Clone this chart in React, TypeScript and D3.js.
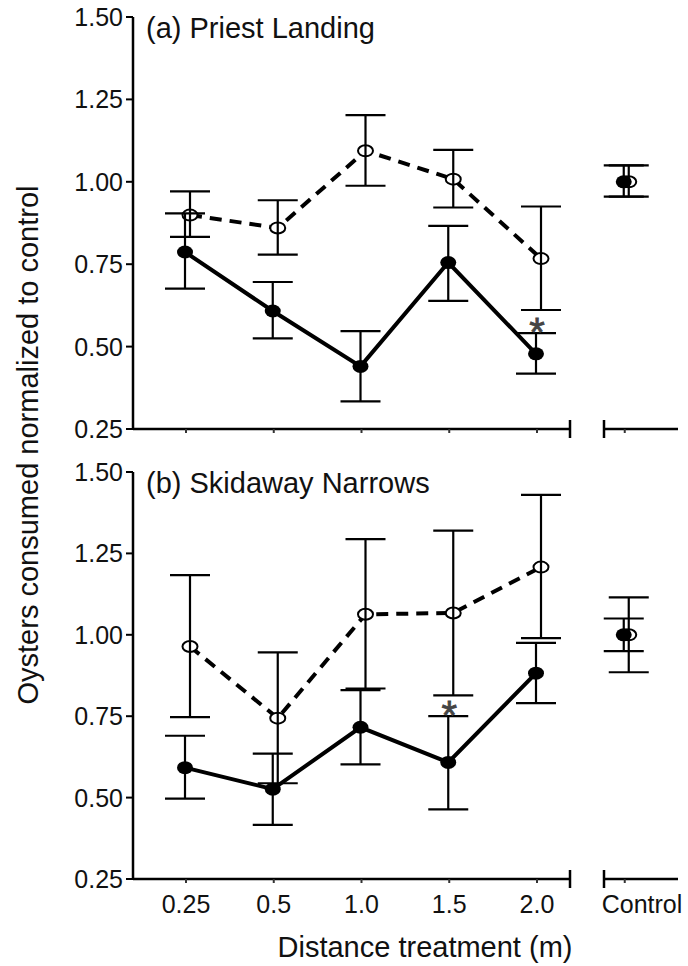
import * as d3 from 'd3';

const categories = ['0.25', '0.5', '1.0', '1.5', '2.0', 'Control'];
const treatmentLabels = ['0.25', '0.5', '1.0', '1.5', '2.0'];
const yTicks = [0.25, 0.5, 0.75, 1.0, 1.25, 1.5];

// (a) Priest Landing
const priestFilled = [0.787, 0.608, 0.44, 0.755, 0.478, 1.0];
const priestFilledHi = [0.904, 0.696, 0.547, 0.866, 0.541, 1.05];
const priestFilledLo = [0.676, 0.525, 0.334, 0.639, 0.418, 0.955];
const priestOpen = [0.899, 0.86, 1.094, 1.008, 0.767, 1.0];
const priestOpenHi = [0.971, 0.944, 1.202, 1.097, 0.925, 1.05];
const priestOpenLo = [0.833, 0.779, 0.988, 0.922, 0.611, 0.955];
const priestStar = ['2.0'];

// (b) Skidaway Narrows
const skidFilled = [0.592, 0.526, 0.716, 0.608, 0.882, 1.0];
const skidFilledHi = [0.69, 0.635, 0.83, 0.75, 0.975, 1.05];
const skidFilledLo = [0.497, 0.416, 0.602, 0.464, 0.79, 0.95];
const skidOpen = [0.964, 0.744, 1.063, 1.067, 1.208, 1.0];
const skidOpenHi = [1.183, 0.946, 1.294, 1.32, 1.43, 1.115];
const skidOpenLo = [0.747, 0.544, 0.835, 0.814, 0.99, 0.885];
const skidStar = ['1.5'];

const FONT = '"Liberation Sans", Arial, Helvetica, sans-serif';

const x = d3.scalePoint<string>().domain(categories).range([186, 624.75]);
const axisX = 133;
const mainEnd = 570;
const ctrlStart = 604;
const ctrlEnd = 678;

type PanelProps = {
  title: string;
  top: number;
  bottom: number;
  filled: number[];
  filledHi: number[];
  filledLo: number[];
  open: number[];
  openHi: number[];
  openLo: number[];
  stars: string[];
};

function Panel(p: PanelProps) {
  const y = d3.scaleLinear().domain([0.25, 1.5]).range([p.bottom, p.top]);
  const fx = (c: string) => x(c)! - 1;
  const ox = (c: string) => x(c)! + 4;
  const line = d3.line<[number, number]>().x((d) => d[0]).y((d) => d[1]);
  // control is not joined to the treatment lines
  const filledPts: [number, number][] = treatmentLabels.map((c, i) => [fx(c), y(p.filled[i])]);
  const openPts: [number, number][] = treatmentLabels.map((c, i) => [ox(c), y(p.open[i])]);
  const cap = 20;

  const errBar = (cx: number, hi: number, lo: number, key: string) => (
    <g key={key} stroke="#000" strokeWidth={2.2}>
      <line x1={cx} x2={cx} y1={y(hi)} y2={y(lo)} />
      <line x1={cx - cap} x2={cx + cap} y1={y(hi)} y2={y(hi)} />
      <line x1={cx - cap} x2={cx + cap} y1={y(lo)} y2={y(lo)} />
    </g>
  );

  return (
    <g>
      {/* y axis */}
      <line x1={axisX} x2={axisX} y1={y(1.5)} y2={y(0.25)} stroke="#000" strokeWidth={2.5} />
      {yTicks.map((t) => (
        <g key={t}>
          <line x1={axisX - 7} x2={axisX} y1={y(t)} y2={y(t)} stroke="#000" strokeWidth={2} />
          <text x={axisX - 10} y={y(t)} dy="0.36em" textAnchor="end" fontSize={25} fontFamily={FONT} fill="#111">
            {t.toFixed(2)}
          </text>
        </g>
      ))}
      {/* x axis, treatments */}
      <line x1={axisX} x2={mainEnd} y1={y(0.25)} y2={y(0.25)} stroke="#000" strokeWidth={2.5} />
      <line x1={mainEnd} x2={mainEnd} y1={y(0.25) - 9} y2={y(0.25) + 9} stroke="#000" strokeWidth={2.5} />
      {/* x axis, control */}
      <line x1={ctrlStart} x2={ctrlEnd} y1={y(0.25)} y2={y(0.25)} stroke="#000" strokeWidth={2.5} />
      <line x1={ctrlStart} x2={ctrlStart} y1={y(0.25) - 9} y2={y(0.25) + 9} stroke="#000" strokeWidth={2.5} />
      {categories.map((c) => (
        <line key={c} x1={x(c)} x2={x(c)} y1={y(0.25)} y2={y(0.25) + 4} stroke="#333" strokeWidth={2} />
      ))}

      <text x={146} y={p.top + 21} fontSize={29} fontFamily={FONT} fill="#111">
        {p.title}
      </text>

      {/* series lines */}
      <path d={line(openPts) ?? ''} fill="none" stroke="#000" strokeWidth={4} strokeDasharray="12,8" />
      <path d={line(filledPts) ?? ''} fill="none" stroke="#000" strokeWidth={4} />

      {/* markers */}
      {categories.map((c, i) => (
        <ellipse key={'o' + c} cx={ox(c)} cy={y(p.open[i])} rx={7.5} ry={5.5} fill="#fff" stroke="#000" strokeWidth={2} />
      ))}
      {categories.map((c, i) => (
        <ellipse key={'f' + c} cx={fx(c)} cy={y(p.filled[i])} rx={8} ry={6.5} fill="#000" />
      ))}

      {/* error bars */}
      {categories.map((c, i) => errBar(ox(c), p.openHi[i], p.openLo[i], 'eo' + c))}
      {categories.map((c, i) => errBar(fx(c), p.filledHi[i], p.filledLo[i], 'ef' + c))}

      {p.stars.map((c) => {
        const i = categories.indexOf(c);
        return (
          <text key={'s' + c} x={x(c)} y={y(p.filledHi[i]) + 13} textAnchor="middle" fontSize={40}
            fontFamily={FONT} fill="#444" stroke="#444" strokeWidth={0.8}>
            *
          </text>
        );
      })}
    </g>
  );
}

export default function App() {
  return (
    <svg width={688} height={966} style={{ position: 'absolute', left: 0, top: 0, background: '#fff' }}>
      <Panel
        title="(a) Priest Landing"
        top={17}
        bottom={429}
        filled={priestFilled}
        filledHi={priestFilledHi}
        filledLo={priestFilledLo}
        open={priestOpen}
        openHi={priestOpenHi}
        openLo={priestOpenLo}
        stars={priestStar}
      />
      <Panel
        title="(b) Skidaway Narrows"
        top={472}
        bottom={879}
        filled={skidFilled}
        filledHi={skidFilledHi}
        filledLo={skidFilledLo}
        open={skidOpen}
        openHi={skidOpenHi}
        openLo={skidOpenLo}
        stars={skidStar}
      />
      {categories.map((c) => (
        <text key={c} x={c === 'Control' ? 642 : x(c)} y={913} textAnchor="middle" fontSize={25} fontFamily={FONT} fill="#111">
          {c}
        </text>
      ))}
      <text x={425} y={957} textAnchor="middle" fontSize={29} fontFamily={FONT} fill="#111">
        Distance treatment (m)
      </text>
      <text transform="translate(38,445) rotate(-90)" textAnchor="middle" fontSize={29} fontFamily={FONT} fill="#111">
        Oysters consumed normalized to control
      </text>
    </svg>
  );
}
